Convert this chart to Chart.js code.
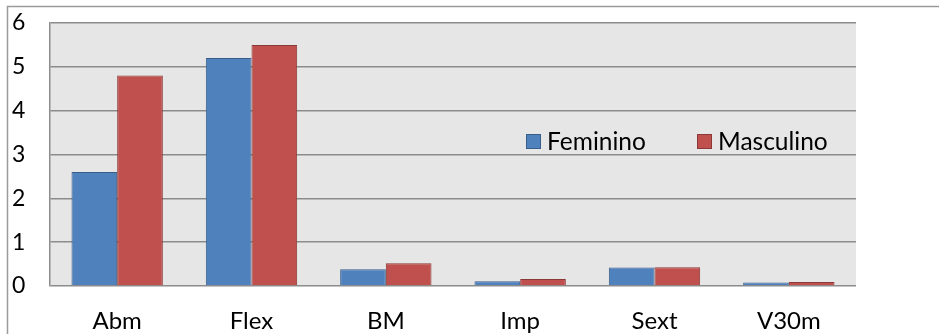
<!DOCTYPE html>
<html>
<head>
<meta charset="utf-8">
<script src="https://cdn.jsdelivr.net/npm/chart.js@4/dist/chart.umd.min.js"></script>
<style>
html,body{margin:0;padding:0;background:#fff;}
#wrap{position:relative;width:939px;height:334px;}
canvas{display:block;}
</style>
</head>
<body>
<div id="wrap"><canvas id="c" width="939" height="334"></canvas></div>
<script>
const categories = ["Abm", "Flex", "BM", "Imp", "Sext", "V30m"];
const feminino = [2.6, 5.2, 0.38, 0.11, 0.42, 0.08];
const masculino = [4.8, 5.5, 0.52, 0.16, 0.43, 0.09];
const seriesNames = ["Feminino", "Masculino"];
const yTicks = [0, 1, 2, 3, 4, 5, 6];

const FONT = "Lato";

const bgPlugin = {
  id: 'bgPlugin',
  beforeDraw(chart) {
    const {ctx, chartArea: a} = chart;
    ctx.save();
    ctx.fillStyle = '#fff';
    ctx.fillRect(0, 0, chart.width, chart.height);
    ctx.fillStyle = '#E6E6E6';
    ctx.fillRect(a.left, a.top, a.right - a.left, a.bottom - a.top);
    ctx.strokeStyle = '#9a9a9a';
    ctx.lineWidth = 1.5;
    ctx.beginPath();
    ctx.moveTo(7.5, chart.height);
    ctx.lineTo(7.5, 6.5);
    ctx.lineTo(chart.width, 6.5);
    ctx.stroke();
    ctx.restore();
  }
};

const legendPlugin = {
  id: 'customLegend',
  afterDatasetsDraw(chart) {
    const {ctx} = chart;
    const xs = [526, 697];
    const y = 134;
    ctx.save();
    ctx.font = '24.5px ' + FONT;
    ctx.textBaseline = 'middle';
    chart.data.datasets.forEach((ds, i) => {
      ctx.fillStyle = ds.backgroundColor;
      ctx.strokeStyle = ds.borderColor;
      ctx.lineWidth = 1;
      ctx.fillRect(xs[i], y, 15, 15);
      ctx.strokeRect(xs[i] + 0.5, y + 0.5, 14, 14);
      ctx.fillStyle = '#000';
      ctx.fillText(ds.label, xs[i] + 21, y + 8);
    });
    ctx.restore();
  }
};

new Chart(document.getElementById('c'), {
  type: 'bar',
  data: {
    labels: categories,
    datasets: [
      {label: seriesNames[0], data: feminino, backgroundColor: '#4F81BD', borderColor: '#385D8A', borderWidth: 1},
      {label: seriesNames[1], data: masculino, backgroundColor: '#C0504D', borderColor: '#8C3836', borderWidth: 1}
    ]
  },
  options: {
    responsive: false,
    animation: false,
    devicePixelRatio: 1,
    layout: {padding: {left: 12, top: 23, right: 83, bottom: 0}},
    plugins: {legend: {display: false}, tooltip: {enabled: false}},
    datasets: {bar: {categoryPercentage: 0.68, barPercentage: 1.0}},
    scales: {
      x: {
        grid: {display: false, drawTicks: false},
        border: {display: false},
        ticks: {color: '#000', font: {family: FONT, size: 24}, padding: 21, maxRotation: 0},
        afterFit(s) { s.height = 48; }
      },
      y: {
        min: 0, max: 6,
        afterBuildTicks(s) { s.ticks = yTicks.map(v => ({value: v})); },
        grid: {color: '#8c8c8c', lineWidth: 1.5, drawTicks: false},
        border: {display: true, color: '#8c8c8c', width: 1.5},
        ticks: {color: '#000', font: {family: FONT, size: 23}, padding: 0, crossAlign: 'far'},
        afterFit(s) { s.width = 38; }
      }
    }
  },
  plugins: [bgPlugin, legendPlugin]
});
</script>
</body>
</html>
